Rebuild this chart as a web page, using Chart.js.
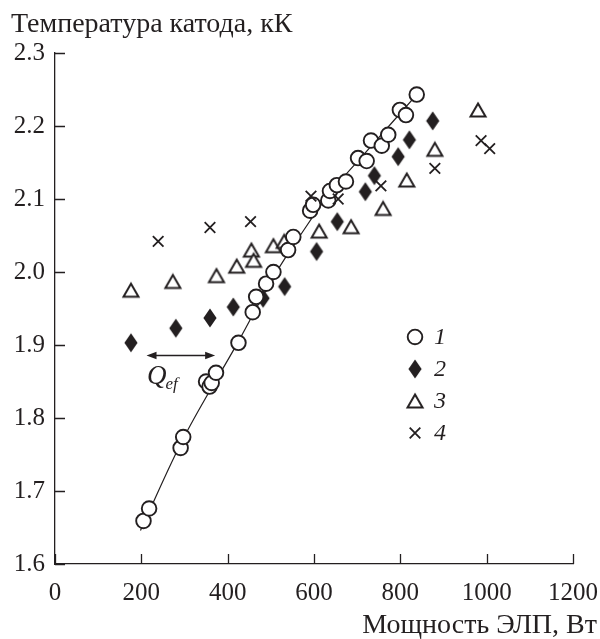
<!DOCTYPE html>
<html>
<head>
<meta charset="utf-8">
<script src="https://cdn.jsdelivr.net/npm/chart.js@4.4.1/dist/chart.umd.min.js"></script>
<style>
  html, body { margin: 0; padding: 0; background: #fff; }
</style>
</head>
<body>
<canvas id="chart" width="600" height="639"></canvas>
<script>
// ---------------------------------------------
// data (W, kK)
// ---------------------------------------------
const powerTicks = [0, 200, 400, 600, 800, 1000, 1200]
const tempTicks  = [1.6, 1.7, 1.8, 1.9, 2.0, 2.1, 2.2, 2.3]

const yTitle = 'Температура катода, кК'
const xTitle = 'Мощность ЭЛП, Вт'
const legendLabels = ['1', '2', '3', '4']

// 1 — circles
const series1 = [
  [205, 1.659], [218, 1.676], [291, 1.759], [297, 1.774],
  [350, 1.850], [358, 1.843], [363, 1.848], [373, 1.862],
  [425, 1.903], [458, 1.945], [466, 1.966], [489, 1.984],
  [506, 2.000], [540, 2.030], [552, 2.048], [591, 2.084],
  [598, 2.092], [633, 2.098], [637, 2.111], [653, 2.119],
  [674, 2.124], [702, 2.156], [722, 2.152], [732, 2.180],
  [757, 2.173], [772, 2.188], [799, 2.222], [813, 2.215],
  [838, 2.243]
]
// 2 — filled diamonds
const series2 = [
  [176, 1.903], [280, 1.923], [359, 1.937], [413, 1.952],
  [482, 1.964], [532, 1.980], [606, 2.028], [654, 2.069],
  [719, 2.110], [740, 2.132], [795, 2.158], [821, 2.181],
  [875, 2.207]
]
// 3 — open triangles
const series3 = [
  [176, 1.975], [273, 1.987], [374, 1.995], [421, 2.008],
  [455, 2.030], [460, 2.016], [506, 2.036], [531, 2.042],
  [612, 2.056], [686, 2.062], [760, 2.087], [815, 2.126],
  [880, 2.168], [980, 2.222]
]
// 4 — crosses
const series4 = [
  [239, 2.042], [359, 2.061], [453, 2.069], [593, 2.104],
  [656, 2.100], [755, 2.118], [880, 2.142], [987, 2.180],
  [1007, 2.169]
]
// fitted curve through series 1
const fitCurve = [
  [198, 1.646], [300, 1.775], [425, 1.905], [506, 1.993],
  [568, 2.050], [637, 2.108], [732, 2.172], [838, 2.243]
]

// Q_ef double arrow and its label
const qefArrow = [[212, 1.886], [371, 1.886]]
const qefLabel = [213, 1.846]
// legend anchor (first row), in data units
const legendAnchor = [834, 1.911]

// ---------------------------------------------
// style
// ---------------------------------------------
const INK  = '#231f20'
const FONT = "'Liberation Serif', 'Times New Roman', serif"
const TICK_PX  = 25
const TITLE_PX = 28

function markerCanvas(w, h, draw) {
  const c = document.createElement('canvas')
  c.width = w
  c.height = h
  draw(c.getContext('2d'))
  return c
}

const diamondMark = markerCanvas(16, 22, g => {
  g.fillStyle = INK
  g.beginPath()
  g.moveTo(8, 1.5); g.lineTo(14.6, 11); g.lineTo(8, 20.5); g.lineTo(1.4, 11)
  g.closePath()
  g.fill()
})

const triangleMark = markerCanvas(20, 18, g => {
  g.fillStyle = '#fff'
  g.strokeStyle = INK
  g.lineWidth = 2
  g.beginPath()
  g.moveTo(10, 2.5); g.lineTo(17.5, 15.5); g.lineTo(2.5, 15.5)
  g.closePath()
  g.fill()
  g.stroke()
})

const toXY = arr => arr.map(([x, y]) => ({ x, y }))

const markers = [
  { pointStyle: 'circle',     radius: 7.3, borderWidth: 1.9, fill: '#fff' },
  { pointStyle: diamondMark,  radius: 8,   borderWidth: 0,   fill: INK },
  { pointStyle: triangleMark, radius: 8,   borderWidth: 0,   fill: '#fff' },
  { pointStyle: 'crossRot',   radius: 7.5, borderWidth: 1.8, fill: INK },
]

function scatterSet(label, arr, m, order) {
  return {
    label,
    data: toXY(arr),
    showLine: false,
    pointStyle: m.pointStyle,
    pointRadius: m.radius,
    pointBorderWidth: m.borderWidth,
    pointBorderColor: INK,
    pointBackgroundColor: m.fill,
    order
  }
}

// ---------------------------------------------
// plugin: inward ticks, titles, legend, Q_ef
// ---------------------------------------------
const decorations = {
  id: 'decorations',
  afterDraw(chart) {
    const { ctx, chartArea: area, scales: { x, y } } = chart
    ctx.save()
    ctx.strokeStyle = INK
    ctx.fillStyle = INK
    ctx.lineWidth = 1.3

    // ticks pointing into the plot
    ctx.beginPath()
    for (const v of tempTicks) {
      const py = Math.round(y.getPixelForValue(v)) + 0.5
      ctx.moveTo(area.left, py); ctx.lineTo(area.left + 10, py)
    }
    for (const v of powerTicks) {
      const px = Math.round(x.getPixelForValue(v)) + 0.5
      ctx.moveTo(px, area.bottom); ctx.lineTo(px, area.bottom - 10)
    }
    ctx.stroke()

    // axis titles
    ctx.font = `${TITLE_PX}px ${FONT}`
    ctx.textBaseline = 'alphabetic'
    ctx.textAlign = 'left'
    ctx.fillText(yTitle, 11, 32)
    ctx.textAlign = 'right'
    ctx.fillText(xTitle, 597, 633)

    // legend
    const lx = x.getPixelForValue(legendAnchor[0])
    const ly = y.getPixelForValue(legendAnchor[1])
    ctx.font = `italic 24px ${FONT}`
    ctx.textAlign = 'left'
    ctx.textBaseline = 'middle'
    markers.forEach((m, i) => {
      const cy = ly + i * 32
      ctx.fillStyle = m.fill
      ctx.strokeStyle = INK
      ctx.lineWidth = m.borderWidth
      Chart.helpers.drawPoint(ctx, { pointStyle: m.pointStyle, radius: m.radius, rotation: 0, borderWidth: m.borderWidth }, lx, cy)
      ctx.fillStyle = INK
      ctx.fillText(legendLabels[i], lx + 19, cy + 1)
    })

    // Q_ef double arrow
    const ax1 = x.getPixelForValue(qefArrow[0][0])
    const ax2 = x.getPixelForValue(qefArrow[1][0])
    const ay  = Math.round(y.getPixelForValue(qefArrow[0][1])) + 0.5
    ctx.strokeStyle = INK
    ctx.fillStyle = INK
    ctx.lineWidth = 1.3
    ctx.beginPath()
    ctx.moveTo(ax1 + 4, ay); ctx.lineTo(ax2 - 4, ay)
    ctx.stroke()
    ctx.beginPath()
    ctx.moveTo(ax1, ay); ctx.lineTo(ax1 + 10, ay - 3.8); ctx.lineTo(ax1 + 10, ay + 3.8); ctx.closePath()
    ctx.moveTo(ax2, ay); ctx.lineTo(ax2 - 10, ay - 3.8); ctx.lineTo(ax2 - 10, ay + 3.8); ctx.closePath()
    ctx.fill()

    const qx = x.getPixelForValue(qefLabel[0])
    const qy = y.getPixelForValue(qefLabel[1])
    ctx.textBaseline = 'alphabetic'
    ctx.textAlign = 'left'
    ctx.font = `italic 27px ${FONT}`
    ctx.fillText('Q', qx, qy)
    const qw = ctx.measureText('Q').width
    ctx.font = `italic 17px ${FONT}`
    ctx.fillText('ef', qx + qw - 1, qy + 5)

    ctx.restore()
  }
}

// ---------------------------------------------
// chart
// ---------------------------------------------
new Chart(document.getElementById('chart'), {
  type: 'scatter',
  data: {
    datasets: [
      {
        label: 'fit',
        data: toXY(fitCurve),
        showLine: true,
        borderColor: INK,
        borderWidth: 1.2,
        pointRadius: 0,
        tension: 0.35,
        order: 10
      },
      scatterSet('3', series3, markers[2], 4),
      scatterSet('2', series2, markers[1], 3),
      scatterSet('1', series1, markers[0], 2),
      scatterSet('4', series4, markers[3], 1),
    ]
  },
  options: {
    responsive: false,
    animation: false,
    devicePixelRatio: 1,
    layout: { padding: { top: 53, right: 27, bottom: 0, left: 0 } },
    plugins: {
      legend: { display: false },
      tooltip: { enabled: false }
    },
    scales: {
      x: {
        type: 'linear',
        min: 0, max: 1200,
        afterBuildTicks: s => { s.ticks = powerTicks.map(value => ({ value })) },
        afterFit: s => { s.height = 75; s.paddingLeft = 0; s.paddingRight = 0 },
        grid: { display: false, drawTicks: false },
        border: { display: true, color: INK, width: 1.3 },
        ticks: {
          color: INK,
          font: { family: FONT, size: TICK_PX },
          padding: 14,
          maxRotation: 0,
          autoSkip: false,
          callback: v => String(v)
        }
      },
      y: {
        type: 'linear',
        min: 1.6, max: 2.3,
        afterBuildTicks: s => { s.ticks = tempTicks.map(value => ({ value })) },
        afterFit: s => { s.width = 55; s.paddingTop = 0; s.paddingBottom = 0 },
        grid: { display: false, drawTicks: false },
        border: { display: true, color: INK, width: 1.3 },
        ticks: {
          color: INK,
          font: { family: FONT, size: TICK_PX },
          padding: 10,
          autoSkip: false,
          callback: v => v.toFixed(1)
        }
      }
    }
  },
  plugins: [decorations]
})
</script>
</body>
</html>
